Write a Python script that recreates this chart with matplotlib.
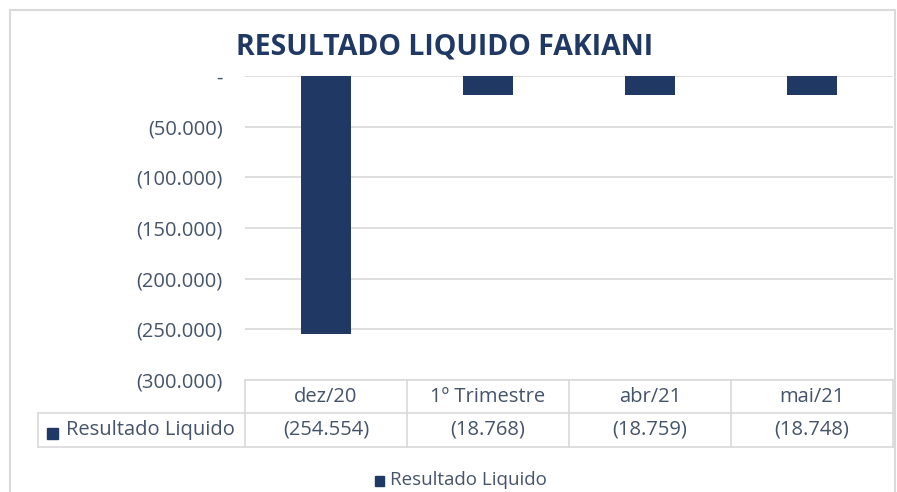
import matplotlib.pyplot as plt
import matplotlib.transforms as mtransforms
from matplotlib.patches import Rectangle

categories = ['dez/20', '1º Trimestre', 'abr/21', 'mai/21']
resultado = [-254554, -18768, -18759, -18748]
series_name = 'Resultado Liquido'
yticks = [0, -50000, -100000, -150000, -200000, -250000, -300000]

navy = '#203864'
txt = '#44546A'
grid = '#D9D9D9'

plt.rcParams['font.family'] = ['Open Sans', 'DejaVu Sans']

W, H = 897, 492
fig = plt.figure(figsize=(W / 100, H / 100), dpi=100)

# plot area in pixel coords of the picture
left, right, top, bottom = 245, 893, 76, 380
ax = fig.add_axes([left / W, 1 - bottom / H, (right - left) / W, (bottom - top) / H])

x = range(len(categories))
ax.bar(x, resultado, width=0.31, color=navy, zorder=3)
ax.set_xlim(-0.5, len(categories) - 0.5)
ax.set_ylim(-300000, 0)

def fmt(v):
    if v == 0:
        return '-'
    return '(' + f'{abs(v):,.0f}'.replace(',', '.') + ')'

ax.set_yticks(yticks)
ax.set_yticklabels([fmt(v) for v in yticks], color=txt, fontsize=14.5)
ax.tick_params(axis='y', length=0, pad=16)
ax.set_xticks([])
ax.grid(axis='y', color=grid, linewidth=1.2, zorder=0)
for s in ax.spines.values():
    s.set_visible(False)

# data table under the plot (x in data units, y in axes fraction)
tr = mtransforms.blended_transform_factory(ax.transData, ax.transAxes)
ax_h = bottom - top
col_px = (right - left) / len(categories)
x_row = -0.5 - (left - 38) / col_px
x_end = len(categories) - 0.5
y0, y1, y2 = 0, -(413 - bottom) / ax_h, -(447 - bottom) / ax_h
lw = 1.2
def seg(xs, ys):
    ax.plot(xs, ys, transform=tr, color=grid, lw=lw, clip_on=False, zorder=1)

seg([-0.5, x_end], [y0, y0])
seg([x_row, x_end], [y1, y1])
seg([x_row, x_end], [y2, y2])
seg([x_row, x_row], [y1, y2])
for b in range(len(categories) + 1):
    seg([b - 0.5, b - 0.5], [y0, y2])
for i, (cat, v) in enumerate(zip(categories, resultado)):
    ax.text(i, (y0 + y1) / 2, cat, transform=tr, ha='center', va='center',
            color=txt, fontsize=14.5)
    ax.text(i, (y1 + y2) / 2, fmt(v), transform=tr, ha='center', va='center',
            color=txt, fontsize=14.5)
ax.text(x_row + 28 / col_px, (y1 + y2) / 2, series_name, transform=tr, ha='left',
        va='center', color=txt, fontsize=14.5)

# legend key squares (table row label and bottom legend)
fig.add_artist(Rectangle((47 / W, 1 - 439 / H), 11 / W, 11 / H, transform=fig.transFigure,
                         color=navy))
fig.add_artist(Rectangle((375 / W, 1 - 486 / H), 9 / W, 10 / H, transform=fig.transFigure,
                         color=navy))
fig.text(390 / W, 1 - 480 / H, series_name, color=txt, fontsize=13.5, va='center', ha='left')

fig.text(445 / W, 1 - 47 / H, 'RESULTADO LIQUIDO FAKIANI', color=navy, fontsize=20.5,
         fontweight='bold', ha='center', va='center')

# chart border
fig.add_artist(Rectangle((10 / W, -0.1), (885) / W, 1 - 10 / H + 0.1, transform=fig.transFigure,
                         fill=False, edgecolor=grid, linewidth=1.5))

fig.savefig('out.png', dpi=100)
